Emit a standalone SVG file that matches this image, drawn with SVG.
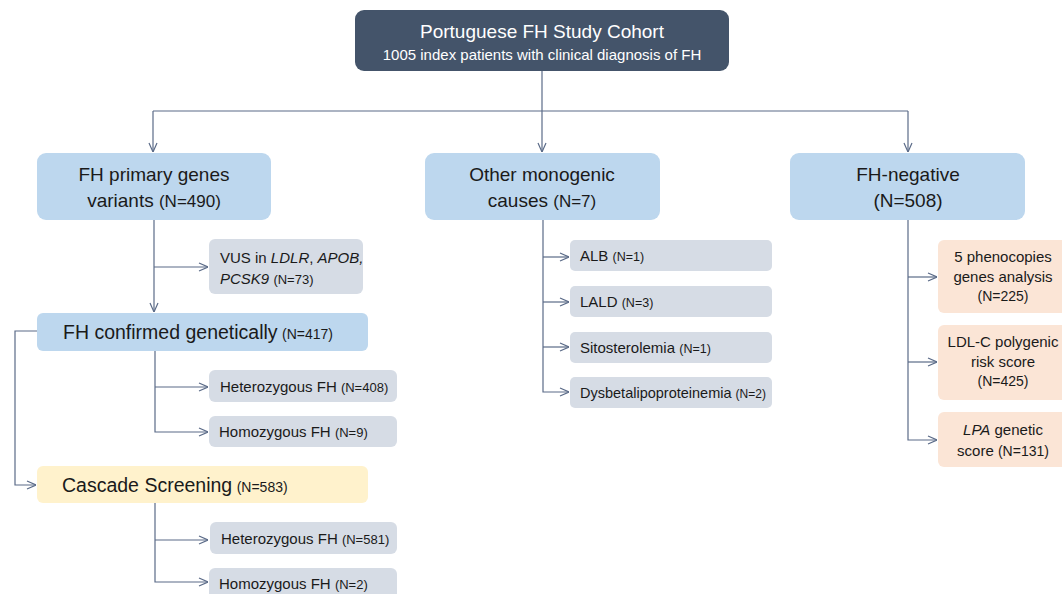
<svg xmlns="http://www.w3.org/2000/svg" width="1062" height="594" viewBox="0 0 1062 594">
<defs>
<marker id="arr" viewBox="0 0 10 10" refX="10" refY="5" markerWidth="10" markerHeight="10" markerUnits="userSpaceOnUse" orient="auto">
<path d="M1,1 L10,5 L1,9" fill="none" stroke="#5b6b88" stroke-width="1.2"/>
</marker>
<style>
text{font-family:"Liberation Sans",Arial,sans-serif;fill:#1a1a1a}
.top{fill:#44546a}
.blue{fill:#bdd7ee}
.gray{fill:#d6dce5}
.yel{fill:#fff2cc}
.peach{fill:#fbe5d6}
.big{font-size:19px}
.mid{font-size:15px}
.sm{font-size:13px}
.c{text-anchor:middle}
.ln{fill:none;stroke:#5b6b88;stroke-width:1.2}
</style>
</defs>
<rect width="1062" height="594" fill="#ffffff"/>

<g id="connectors">
<path class="ln" d="M542,71 V111"/>
<path class="ln" d="M153,111 H908"/>
<path class="ln" d="M153,111 V152" marker-end="url(#arr)"/>
<path class="ln" d="M542,111 V152" marker-end="url(#arr)"/>
<path class="ln" d="M908,111 V152" marker-end="url(#arr)"/>
<path class="ln" d="M154,220 V312" marker-end="url(#arr)"/>
<path class="ln" d="M154,267 H208" marker-end="url(#arr)"/>
<path class="ln" d="M155,351 V432 H208" marker-end="url(#arr)"/>
<path class="ln" d="M155,387 H208" marker-end="url(#arr)"/>
<path class="ln" d="M37,331 H15 V485 H36" marker-end="url(#arr)"/>
<path class="ln" d="M155,503 V582 H208" marker-end="url(#arr)"/>
<path class="ln" d="M155,540 H208" marker-end="url(#arr)"/>
<path class="ln" d="M543,220 V392 H569" marker-end="url(#arr)"/>
<path class="ln" d="M543,257 H569" marker-end="url(#arr)"/>
<path class="ln" d="M543,302 H569" marker-end="url(#arr)"/>
<path class="ln" d="M543,347 H569" marker-end="url(#arr)"/>
<path class="ln" d="M908,220 V440 H937" marker-end="url(#arr)"/>
<path class="ln" d="M908,277 H937" marker-end="url(#arr)"/>
<path class="ln" d="M908,362 H937" marker-end="url(#arr)"/>
</g>

<g id="cohort">
<rect class="top" x="355" y="10" width="374" height="61" rx="9"/>
<text class="c" x="542" y="38" style="font-size:19px;fill:#ffffff">Portuguese FH Study Cohort</text>
<text class="c" x="542" y="60" style="font-size:15px;fill:#ffffff">1005 index patients with clinical diagnosis of FH</text>
</g>

<g id="fh-primary">
<rect class="blue" x="37" y="153" width="234" height="67" rx="9"/>
<text class="c big" x="154" y="181">FH primary genes</text>
<text class="c big" x="154" y="207">variants <tspan style="font-size:17px">(N=490)</tspan></text>
</g>

<g id="other-mono">
<rect class="blue" x="425" y="153" width="235" height="67" rx="9"/>
<text class="c big" x="542" y="181">Other monogenic</text>
<text class="c big" x="542" y="207">causes <tspan style="font-size:17px">(N=7)</tspan></text>
</g>

<g id="fh-negative">
<rect class="blue" x="790" y="153" width="235" height="67" rx="9"/>
<text class="c big" x="908" y="181">FH-negative</text>
<text class="c big" x="908" y="207">(N=508)</text>
</g>

<g id="vus">
<rect class="gray" x="209" y="239" width="154" height="55" rx="6"/>
<text class="mid" x="220" y="263">VUS in <tspan font-style="italic">LDLR</tspan>, <tspan font-style="italic">APOB,</tspan></text>
<text class="mid" x="220" y="284"><tspan font-style="italic">PCSK9</tspan> <tspan class="sm">(N=73)</tspan></text>
</g>

<g id="fh-confirmed">
<rect class="blue" x="37" y="313" width="331" height="38" rx="6"/>
<text x="63" y="339"><tspan style="font-size:19.5px">FH confirmed genetically</tspan> <tspan style="font-size:14px">(N=417)</tspan></text>
</g>

<g id="het-408">
<rect class="gray" x="209" y="370" width="188" height="32" rx="6"/>
<text class="mid" x="220" y="392">Heterozygous FH <tspan class="sm">(N=408)</tspan></text>
</g>

<g id="hom-9">
<rect class="gray" x="209" y="416" width="188" height="31" rx="6"/>
<text class="mid" x="219" y="437">Homozygous FH <tspan class="sm">(N=9)</tspan></text>
</g>

<g id="cascade">
<rect class="yel" x="37" y="466" width="331" height="37" rx="6"/>
<text x="62" y="492"><tspan style="font-size:19.5px">Cascade Screening</tspan> <tspan style="font-size:14px">(N=583)</tspan></text>
</g>

<g id="het-581">
<rect class="gray" x="210" y="522" width="187" height="32" rx="6"/>
<text class="mid" x="221" y="544">Heterozygous FH <tspan class="sm">(N=581)</tspan></text>
</g>

<g id="hom-2">
<rect class="gray" x="209" y="568" width="188" height="32" rx="6"/>
<text class="mid" x="219" y="589">Homozygous FH <tspan class="sm">(N=2)</tspan></text>
</g>

<g id="alb">
<rect class="gray" x="570" y="240" width="202" height="31" rx="5"/>
<text x="580" y="261" style="font-size:15px">ALB <tspan style="font-size:12.5px">(N=1)</tspan></text>
</g>

<g id="lald">
<rect class="gray" x="570" y="286" width="202" height="31" rx="5"/>
<text x="580" y="307" style="font-size:15px">LALD <tspan style="font-size:12.5px">(N=3)</tspan></text>
</g>

<g id="sito">
<rect class="gray" x="570" y="332" width="202" height="31" rx="5"/>
<text x="580" y="353" style="font-size:15px">Sitosterolemia <tspan style="font-size:12.5px">(N=1)</tspan></text>
</g>

<g id="dysbeta">
<rect class="gray" x="570" y="377" width="202" height="31" rx="5"/>
<text x="580" y="398" style="font-size:14.5px">Dysbetalipoproteinemia <tspan style="font-size:12px">(N=2)</tspan></text>
</g>

<g id="phenocopies">
<rect class="peach" x="938" y="240" width="132" height="73" rx="6"/>
<text class="c mid" x="1003" y="262">5 phenocopies</text>
<text class="c mid" x="1003" y="282">genes analysis</text>
<text class="c" x="1003" y="301" style="font-size:14px">(N=225)</text>
</g>

<g id="polygenic">
<rect class="peach" x="938" y="325" width="132" height="75" rx="6"/>
<text class="c mid" x="1003" y="347">LDL-C polygenic</text>
<text class="c mid" x="1003" y="367">risk score</text>
<text class="c" x="1003" y="386" style="font-size:14px">(N=425)</text>
</g>

<g id="lpa">
<rect class="peach" x="938" y="412" width="132" height="55" rx="6"/>
<text class="c mid" x="1003" y="435"><tspan font-style="italic">LPA</tspan> genetic</text>
<text class="c mid" x="1003" y="456">score <tspan style="font-size:14px">(N=131)</tspan></text>
</g>
</svg>
